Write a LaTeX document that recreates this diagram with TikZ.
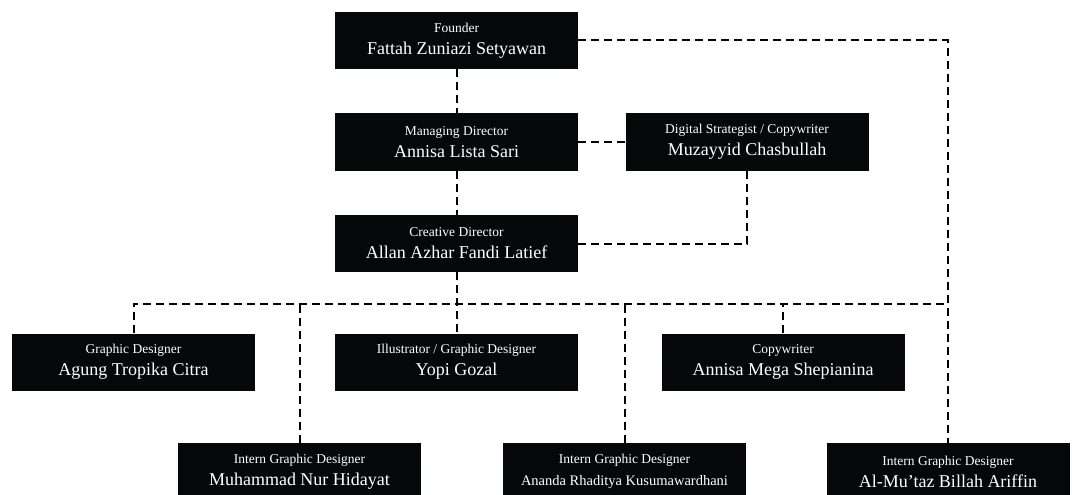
\documentclass[tikz,border=0pt]{standalone}
\usepackage{fontspec}
\setmainfont{Liberation Serif}
\definecolor{boxblack}{HTML}{050708}
\newcommand\who[2][18]{{\fontsize{#1}{22}\selectfont #2}}
\begin{document}
\begin{tikzpicture}[x=1pt,y=-1pt,
    card/.style={fill=boxblack,text=white,minimum width=243pt,minimum height=57pt,inner sep=0pt,
      align=center,font=\fontsize{13.5}{22}\selectfont},
    link/.style={dash pattern=on 8pt off 5pt,line width=2pt}]
  \clip (0,0) rectangle (1072,495);
  % top levels
  \node[card](founder) at (456.5,40.5){Founder\\\who{Fattah Zuniazi Setyawan}};
  \node[card](managing) at (456.5,142){Managing Director\\\who{Annisa Lista Sari}};
  \node[card](digital) at (747,142){Digital Strategist / Copywriter\\\who{Muzayyid Chasbullah}};
  \node[card](creative) at (456.5,243.5){Creative Director\\\who{Allan Azhar Fandi Latief}};
  % designers
  \node[card](graphic) at (133.5,362){Graphic Designer\\\who{Agung Tropika Citra}};
  \node[card](illustrator) at (456.5,362){Illustrator / Graphic Designer\\\who{Yopi Gozal}};
  \node[card](copywriter) at (783,362){Copywriter\\\who{Annisa Mega Shepianina}};
  % interns
  \node[card](muhammad) at (299.5,471.5){Intern Graphic Designer\\\who{Muhammad Nur Hidayat}};
  \node[card](ananda) at (624.5,471.5){Intern Graphic Designer\\\who[14.5]{Ananda Rhaditya Kusumawardhani}};
  \node[card](almutaz) at (948,471.5){Intern Graphic Designer\\\who{Al-Mu'taz Billah Ariffin}};
  \coordinate (bus) at (0,304);
  \draw[link](founder)--(managing);
  \draw[link](managing)--(digital);
  \draw[link](managing)--(creative);
  \draw[link](digital.south)|-(creative.east);
  \draw[link](founder.east)-|(almutaz.north);
  \draw[link](creative)--(illustrator);
  \draw[link](graphic.north)--(graphic.north|-bus)--(almutaz.north|-bus);
  \draw[link](muhammad.north)--(muhammad.north|-bus);
  \draw[link](ananda.north)--(ananda.north|-bus);
  \draw[link](copywriter.north)--(copywriter.north|-bus);
\end{tikzpicture}
\end{document}
